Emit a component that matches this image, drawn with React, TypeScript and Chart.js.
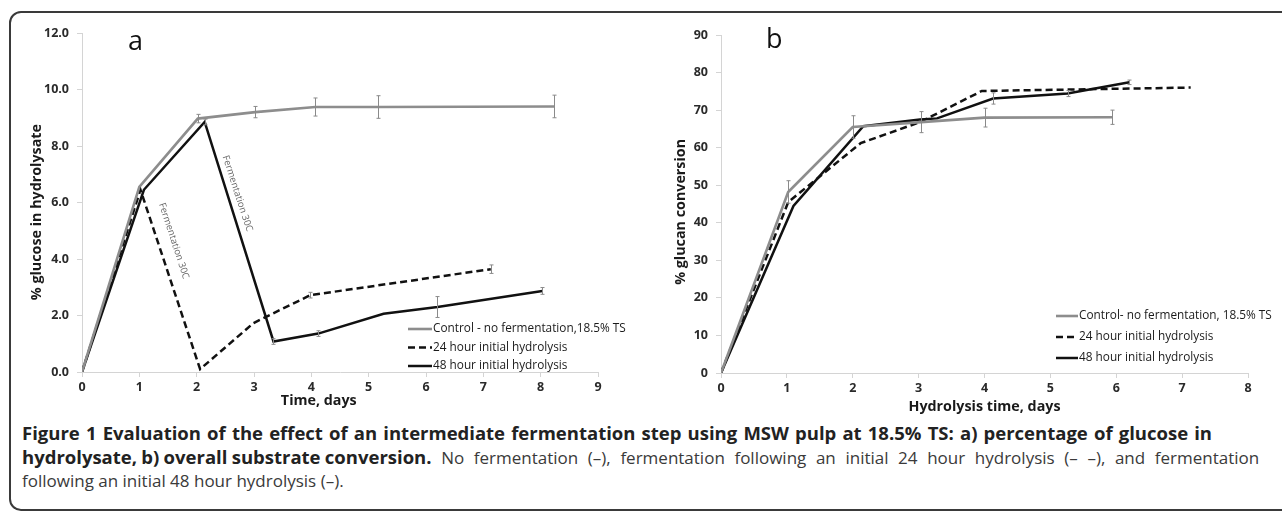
import React, { useEffect, useRef } from "react";
import { Chart, registerables } from "chart.js";

Chart.register(...registerables);

// ---------- Data: panel a (% glucose in hydrolysate) ----------
const aLabels = [
  "Control - no fermentation,18.5% TS",
  "24 hour initial hydrolysis",
  "48 hour initial hydrolysis",
];
const aControlDays = [0, 1.0, 2.02, 3.02, 4.07, 5.17, 8.24];
const aControlGlucose = [0, 6.55, 8.97, 9.2, 9.38, 9.38, 9.4];
const aControlErr = [0, 0, 0.15, 0.2, 0.32, 0.4, 0.4];

const a24Days = [0, 1.02, 2.06, 2.99, 3.98, 7.13];
const a24Glucose = [0, 6.45, 0.1, 1.73, 2.72, 3.64];
const a24Err = [0, 0, 0, 0, 0.1, 0.15];

const a48Days = [0, 1.08, 2.14, 3.34, 4.12, 5.26, 6.2, 8.03];
const a48Glucose = [0, 6.45, 8.85, 1.08, 1.36, 2.06, 2.3, 2.87];
const a48Err = [0, 0, 0.1, 0.1, 0.1, 0, 0.37, 0.12];

// ---------- Data: panel b (% glucan conversion) ----------
const bLabels = [
  "Control- no fermentation, 18.5% TS",
  "24 hour initial hydrolysis",
  "48 hour initial hydrolysis",
];
const bControlDays = [0, 1.02, 2.0, 3.04, 4.0, 5.94];
const bControlConv = [0, 48.2, 65.5, 66.8, 68.0, 68.1];
const bControlErr = [0, 3, 3, 2.8, 2.5, 1.9];

const b24Days = [0, 1.02, 2.12, 3.02, 3.96, 7.13];
const b24Conv = [0, 45.5, 61.2, 66.8, 75.1, 76.0];
const b24Err = [0, 0, 0, 0, 0, 0];

const b48Days = [0, 1.1, 2.16, 3.02, 3.28, 4.13, 5.26, 6.2];
const b48Conv = [0, 44.5, 65.7, 67.5, 67.8, 73.1, 74.4, 77.4];
const b48Err = [0, 0, 0, 0, 0, 1.5, 0.8, 0.6];

const FONT = "'Open Sans', 'Noto Sans', sans-serif";

const toPoints = (xs: number[], ys: number[]) => xs.map((x, i) => ({ x, y: ys[i] }));

// ---------- Plugins ----------
const errorBarsPlugin = {
  id: "errorBars",
  afterDatasetsDraw(chart: any, _args: any, opts: any) {
    const { ctx } = chart;
    const yScale = chart.scales.y;
    const xScale = chart.scales.x;
    ctx.save();
    ctx.strokeStyle = opts.color;
    ctx.lineWidth = 1;
    chart.data.datasets.forEach((ds: any, i: number) => {
      const errs: number[] = opts.errors[i] || [];
      ds.data.forEach((p: any, j: number) => {
        const e = errs[j];
        if (!e) return;
        const px = Math.round(xScale.getPixelForValue(p.x)) + 0.5;
        const top = yScale.getPixelForValue(p.y + e);
        const bot = yScale.getPixelForValue(p.y - e);
        const cap = opts.cap;
        ctx.beginPath();
        ctx.moveTo(px, top);
        ctx.lineTo(px, bot);
        ctx.moveTo(px - cap, top);
        ctx.lineTo(px + cap, top);
        ctx.moveTo(px - cap, bot);
        ctx.lineTo(px + cap, bot);
        ctx.stroke();
      });
    });
    ctx.restore();
  },
};

const insideLegendPlugin = {
  id: "insideLegend",
  afterDraw(chart: any, _args: any, opts: any) {
    const { ctx, chartArea } = chart;
    const sets = chart.data.datasets;
    const n = sets.length;
    const left = chartArea.right - opts.right;
    ctx.save();
    ctx.font = opts.font;
    ctx.textBaseline = "middle";
    sets.forEach((ds: any, i: number) => {
      const y = chartArea.bottom - opts.bottom - (n - 1 - i) * opts.rowGap;
      ctx.strokeStyle = ds.borderColor;
      ctx.lineWidth = ds.borderWidth;
      ctx.setLineDash(ds.borderDash || []);
      ctx.beginPath();
      ctx.moveTo(left, y);
      ctx.lineTo(left + opts.lineLen, y);
      ctx.stroke();
      ctx.setLineDash([]);
      ctx.fillStyle = opts.color;
      ctx.textAlign = "left";
      ctx.fillText(ds.label, left + opts.lineLen + 1, y);
    });
    ctx.restore();
  },
};

const axisTitlesPlugin = {
  id: "axisTitles",
  afterDraw(chart: any, _args: any, opts: any) {
    const { ctx, chartArea } = chart;
    const xs = chart.scales.x;
    const ys = chart.scales.y;
    ctx.save();
    ctx.fillStyle = opts.color;
    ctx.font = opts.font;
    ctx.textAlign = "center";
    ctx.textBaseline = "middle";
    if (opts.x) {
      ctx.fillText(opts.x.text, xs.getPixelForValue(opts.x.at), chartArea.bottom + opts.x.offset);
    }
    if (opts.y) {
      ctx.save();
      ctx.translate(chartArea.left - opts.y.offset, ys.getPixelForValue(opts.y.at));
      ctx.rotate(-Math.PI / 2);
      ctx.fillText(opts.y.text, 0, 0);
      ctx.restore();
    }
    ctx.restore();
  },
};

const notesPlugin = {
  id: "notes",
  afterDraw(chart: any, _args: any, opts: any) {
    const { ctx } = chart;
    const xs = chart.scales.x;
    const ys = chart.scales.y;
    ctx.save();
    ctx.fillStyle = opts.color;
    ctx.font = opts.font;
    ctx.textAlign = "center";
    ctx.textBaseline = "middle";
    (opts.items || []).forEach((it: any) => {
      ctx.save();
      ctx.translate(xs.getPixelForValue(it.x), ys.getPixelForValue(it.y));
      ctx.rotate((it.angle * Math.PI) / 180);
      ctx.fillText(it.text, 0, 0);
      ctx.restore();
    });
    ctx.restore();
  },
};

type PanelCfg = {
  labels: string[];
  xs: number[][];
  ys: number[][];
  errs: number[][];
  xMax: number;
  yMax: number;
  yStep: number;
  yDecimals: number;
  padding: { top: number; right: number };
  yAxisWidth: number;
  xAxisHeight: number;
  xTitle: { text: string; at: number; offset: number };
  yTitle: { text: string; at: number; offset: number };
  legend: { right: number; bottom: number; rowGap: number; lineLen: number };
  notes: any[];
};

const seriesStyles = [
  { borderColor: "#8d8d8d", borderWidth: 2.6, borderDash: [] as number[] },
  { borderColor: "#111111", borderWidth: 2.5, borderDash: [7, 4] },
  { borderColor: "#111111", borderWidth: 2.5, borderDash: [] as number[] },
];

function makeConfig(p: PanelCfg): any {
  return {
    type: "line",
    data: {
      datasets: p.labels.map((label, i) => ({
        label,
        data: toPoints(p.xs[i], p.ys[i]),
        ...seriesStyles[i],
        pointRadius: 0,
        pointHoverRadius: 0,
        tension: 0,
        fill: false,
      })),
    },
    options: {
      responsive: false,
      animation: false,
      events: [],
      layout: { padding: { top: p.padding.top, right: p.padding.right, left: 0, bottom: 0 } },
      scales: {
        x: {
          type: "linear",
          min: 0,
          max: p.xMax,
          afterFit: (s: any) => {
            s.height = p.xAxisHeight;
          },
          ticks: {
            stepSize: 1,
            color: "#2a2a2a",
            padding: 3,
            font: { family: FONT, size: 12.5, weight: "bold" },
          },
          grid: { drawOnChartArea: false, color: "#d4d4d4", tickLength: 5 },
          border: { color: "#d4d4d4", width: 1 },
        },
        y: {
          type: "linear",
          min: 0,
          max: p.yMax,
          afterFit: (s: any) => {
            s.width = p.yAxisWidth;
          },
          ticks: {
            stepSize: p.yStep,
            color: "#2a2a2a",
            padding: 8,
            font: { family: FONT, size: 12.5, weight: "bold" },
            callback: (v: any) => Number(v).toFixed(p.yDecimals),
          },
          grid: { drawOnChartArea: false, color: "#d4d4d4", tickLength: 5 },
          border: { color: "#d4d4d4", width: 1 },
        },
      },
      plugins: {
        legend: { display: false },
        tooltip: { enabled: false },
        errorBars: { errors: p.errs, color: "#8a8a8a", cap: 2 },
        insideLegend: {
          ...p.legend,
          font: `11.8px ${FONT}`,
          color: "#1a1a1a",
        },
        axisTitles: {
          font: `bold 14.3px ${FONT}`,
          color: "#1a1a1a",
          x: p.xTitle,
          y: p.yTitle,
        },
        notes: {
          font: `9.5px ${FONT}`,
          color: "#666666",
          items: p.notes,
        },
      },
    },
    plugins: [errorBarsPlugin, insideLegendPlugin, axisTitlesPlugin, notesPlugin],
  };
}

const panelA: PanelCfg = {
  labels: aLabels,
  xs: [aControlDays, a24Days, a48Days],
  ys: [aControlGlucose, a24Glucose, a48Glucose],
  errs: [aControlErr, a24Err, a48Err],
  xMax: 9,
  yMax: 12,
  yStep: 2,
  yDecimals: 1,
  padding: { top: 33, right: 42 },
  yAxisWidth: 82,
  xAxisHeight: 48,
  xTitle: { text: "Time, days", at: 4.13, offset: 29 },
  yTitle: { text: "% glucose in hydrolysate", at: 5.66, offset: 45 },
  legend: { right: 190, bottom: 6, rowGap: 18.5, lineLen: 24 },
  notes: [
    { text: "Fermentation 30C", x: 1.6, y: 4.64, angle: 72 },
    { text: "Fermentation 30C", x: 2.71, y: 6.32, angle: 72 },
  ],
};

const panelB: PanelCfg = {
  labels: bLabels,
  xs: [bControlDays, b24Days, b48Days],
  ys: [bControlConv, b24Conv, b48Conv],
  errs: [bControlErr, b24Err, b48Err],
  xMax: 8,
  yMax: 90,
  yStep: 10,
  yDecimals: 0,
  padding: { top: 35, right: 32 },
  yAxisWidth: 81,
  xAxisHeight: 47,
  xTitle: { text: "Hydrolysis time, days", at: 4.0, offset: 34 },
  yTitle: { text: "% glucan conversion", at: 42.9, offset: 40 },
  legend: { right: 192, bottom: 15, rowGap: 21, lineLen: 22 },
  notes: [],
};

function Panel({ cfg, left }: { cfg: PanelCfg; left: number }) {
  const ref = useRef<HTMLCanvasElement>(null);
  useEffect(() => {
    const chart = new Chart(ref.current as HTMLCanvasElement, makeConfig(cfg));
    return () => chart.destroy();
  }, [cfg]);
  return (
    <canvas
      ref={ref}
      width={640}
      height={420}
      style={{ position: "absolute", left, top: 0, width: 640, height: 420 }}
    />
  );
}

const boldStyle: React.CSSProperties = { fontWeight: 700, color: "#222", fontSize: 18.5 };

export default function App() {
  return (
    <div
      style={{
        position: "absolute",
        left: 0,
        top: 0,
        width: 1282,
        height: 512,
        overflow: "hidden",
        background: "#ffffff",
        fontFamily: FONT,
      }}
    >
      <div
        style={{
          position: "absolute",
          left: 9,
          top: 11,
          width: 1300,
          height: 500,
          border: "2px solid #3a3a3a",
          borderRadius: 12,
          boxSizing: "border-box",
        }}
      />
      <Panel cfg={panelA} left={0} />
      <Panel cfg={panelB} left={640} />
      <div style={{ position: "absolute", left: 128, top: 24, fontSize: 27, color: "#111", lineHeight: "32px" }}>a</div>
      <div style={{ position: "absolute", left: 766, top: 22, fontSize: 27, color: "#111", lineHeight: "32px" }}>b</div>
      <div
        style={{
          position: "absolute",
          left: 22,
          top: 421,
          fontSize: 17,
          lineHeight: "23px",
          color: "#3a3a3a",
          whiteSpace: "nowrap",
        }}
      >
        <div>
          <span style={{ ...boldStyle, wordSpacing: 1.35 }}>
            Figure 1 Evaluation of the effect of an intermediate fermentation step using MSW pulp at 18.5% TS: a) percentage of glucose in
          </span>
        </div>
        <div>
          <span style={{ ...boldStyle, wordSpacing: -0.5 }}>hydrolysate, b) overall substrate conversion.</span>
          <span style={{ wordSpacing: 5.2 }}> No fermentation (–), fermentation following an initial 24 hour hydrolysis (– –), and fermentation</span>
        </div>
        <div>following an initial 48 hour hydrolysis (–).</div>
      </div>
    </div>
  );
}
